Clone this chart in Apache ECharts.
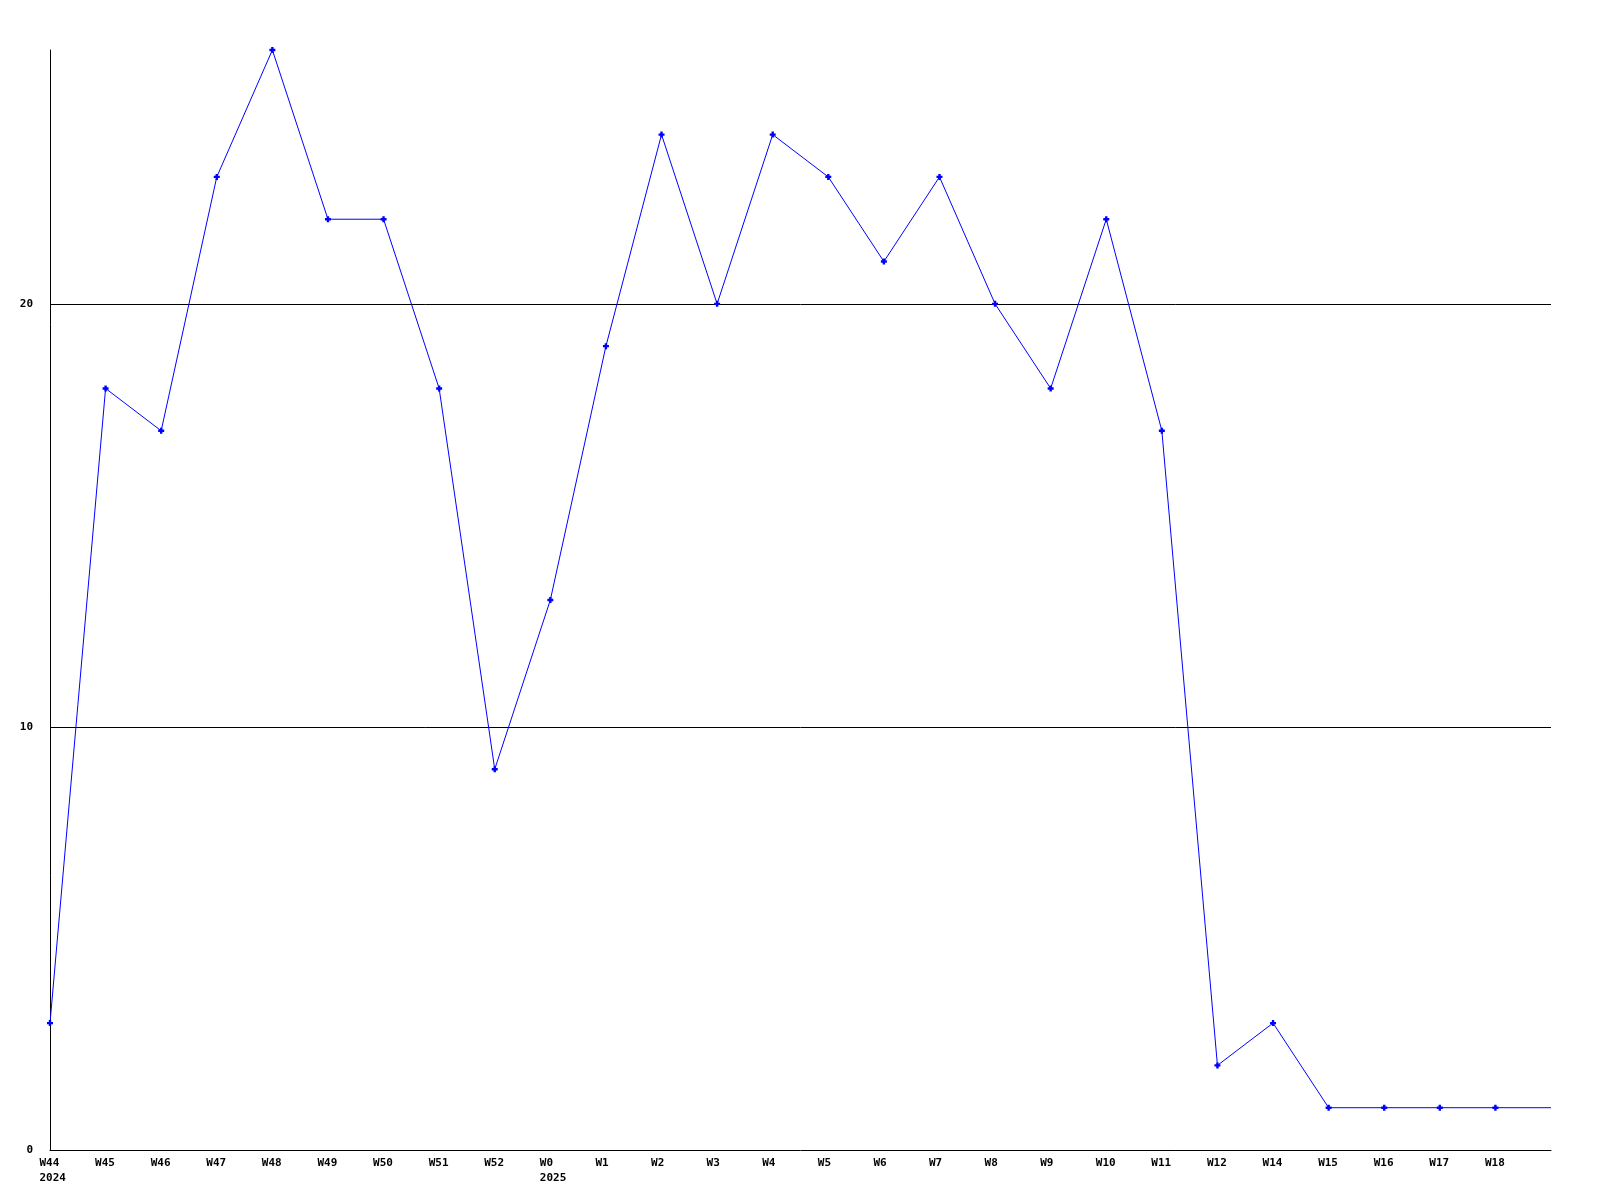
<!DOCTYPE html>
<html>
<head>
<meta charset="utf-8">
<script src="https://cdn.jsdelivr.net/npm/echarts@6/dist/echarts.min.js"></script>
<style>html,body{margin:0;padding:0;background:#fff}#c{width:1600px;height:1200px}</style>
</head>
<body>
<div id="c"></div>
<script>
const weeks = ['W44','W45','W46','W47','W48','W49','W50','W51','W52','W0','W1','W2','W3','W4','W5','W6','W7','W8','W9','W10','W11','W12','W14','W15','W16','W17','W18',''];
const years = {'W44':'2024','W0':'2025'};
const values = [3,18,17,23,26,22,22,18,9,13,19,24,20,24,23,21,23,20,18,22,17,2,3,1,1,1,1,1];
const yTicks = [0,10,20];

const chart = echarts.init(document.getElementById('c'));
const font = {fontFamily:'DejaVu Sans Mono', fontWeight:'bold', fontSize:11, color:'#000'};
chart.setOption({
  animation:false,
  backgroundColor:'#fff',
  grid:{left:50, right:49, top:50, bottom:50, containLabel:false},
  xAxis:{
    type:'category', data:weeks, boundaryGap:false,
    axisLine:{lineStyle:{color:'#000', width:1}},
    axisTick:{show:false},
    splitLine:{show:false},
    axisLabel:Object.assign({}, font, {
      interval:0, margin:6, showMaxLabel:true,
      formatter:(v)=> v === '' ? '' : '{a|' + (years[v] ? v+'\n'+years[v] : v) + '}',
      rich:{a:Object.assign({}, font, {width:21, align:'left', lineHeight:15})}
    })
  },
  yAxis:{
    type:'value', min:0, max:26, interval:10,
    axisLine:{show:true, lineStyle:{color:'#000', width:1}},
    axisTick:{show:false},
    splitLine:{show:true, showMinLine:false, showMaxLine:false, lineStyle:{color:'#000', width:1}},
    axisLabel:Object.assign({}, font, {margin:17, showMaxLabel:false,
      formatter:(v)=> yTicks.indexOf(v)>=0 ? String(v) : ''})
  },
  series:[{
    type:'line', data:values.map((v,i)=> i===values.length-1 ? {value:v, symbol:'none'} : v),
    symbol:'path://M1.5,0H3.5V1.5H5V3.5H3.5V5H1.5V3.5H0V1.5H1.5Z', symbolSize:6, showAllSymbol:true,
    lineStyle:{color:'#0000ff', width:1},
    itemStyle:{color:'#0000ff'},
    emphasis:{disabled:true}
  }]
});
</script>
</body>
</html>
